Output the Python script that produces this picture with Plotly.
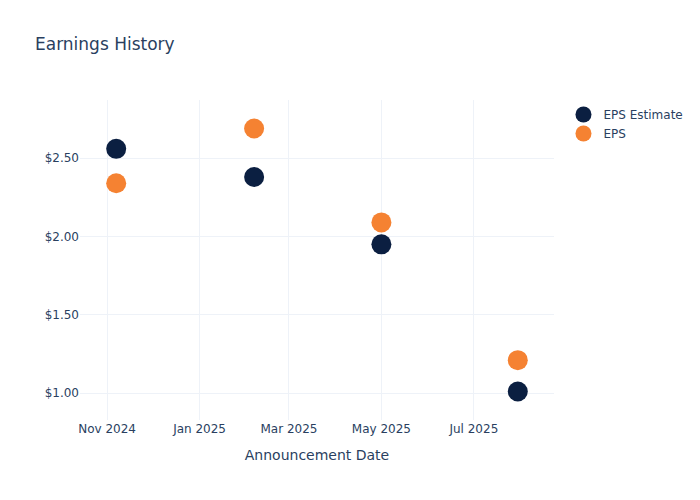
import plotly.graph_objects as go

dates = ["2024-11-07", "2025-02-06", "2025-05-01", "2025-07-30"]
eps_estimate = [2.56, 2.38, 1.95, 1.01]
eps_actual = [2.34, 2.69, 2.09, 1.21]

fig = go.Figure()
fig.add_trace(go.Scatter(x=dates, y=eps_estimate, mode="markers", name="EPS Estimate",
                         marker=dict(size=20, color="#0b1f41")))
fig.add_trace(go.Scatter(x=dates, y=eps_actual, mode="markers", name="EPS",
                         marker=dict(size=20, color="#f58232")))
fig.update_layout(
    template="plotly_white",
    font=dict(family="DejaVu Sans"),
    title=dict(text="Earnings History"),
    xaxis=dict(title="Announcement Date", gridcolor="#EEF2F8"),
    yaxis=dict(tickprefix="$", tickformat=".2f", gridcolor="#EEF2F8"),
    width=700, height=500,
)
fig.write_html("out.html", config={"displayModeBar": False},
               post_script="document.body.style.margin='0';")
